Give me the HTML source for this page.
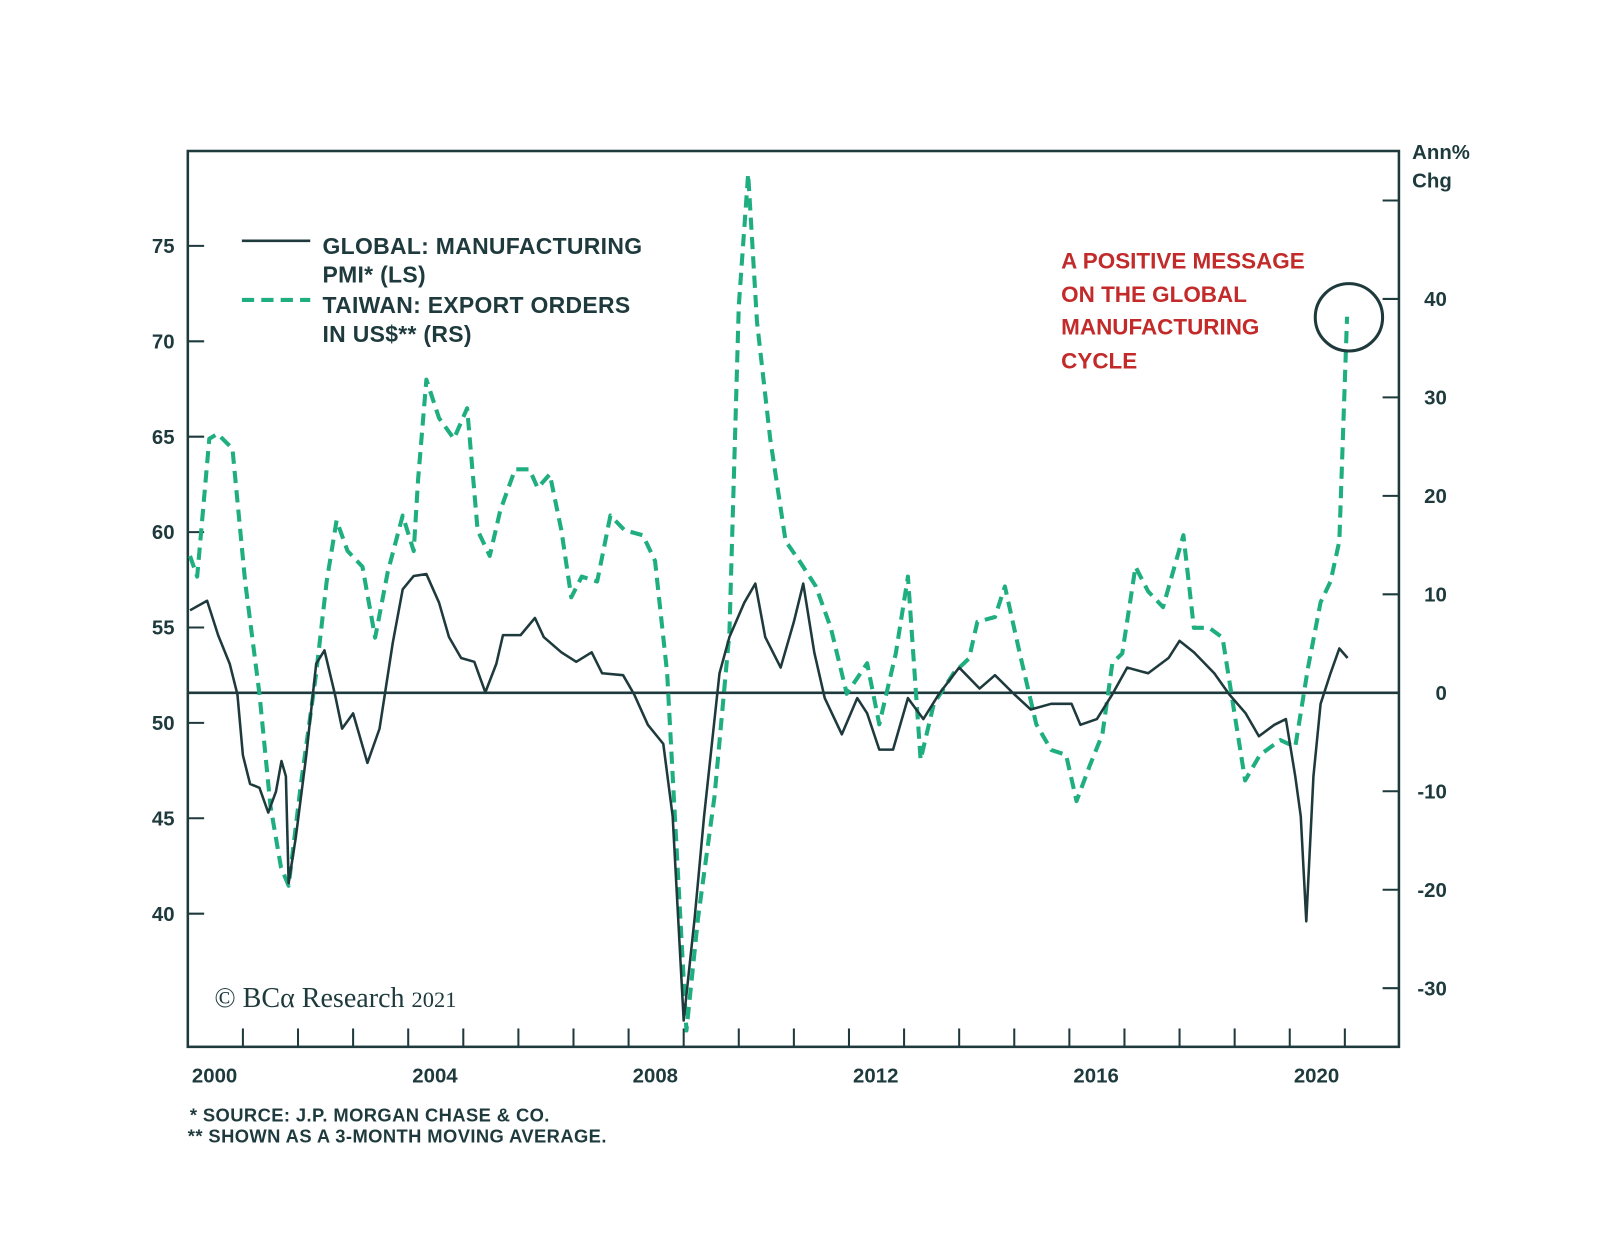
<!DOCTYPE html>
<html><head><meta charset="utf-8"><style>
body{margin:0;background:#fff;}
svg{display:block;font-family:"Liberation Sans",sans-serif;}
</style></head><body>
<svg id="chart" width="1600" height="1256" viewBox="0 0 1568 1231">
<rect x="184" y="148" width="1187" height="878" fill="none" stroke="#1e3a3d" stroke-width="2.5"/>
<g id="axes"></g>
<g id="series"></g>
<g font-size="22.5" font-weight="bold" fill="#1e3a3d" letter-spacing="0.3">
<line x1="237" y1="236" x2="304" y2="236" stroke="#1e3a3d" stroke-width="2.5"/>
<text x="316" y="249">GLOBAL: MANUFACTURING</text>
<text x="316" y="277">PMI* (LS)</text>
<line x1="237" y1="294" x2="304" y2="294" stroke="#1fae80" stroke-width="4" stroke-dasharray="12,7"/>
<text x="316" y="307">TAIWAN: EXPORT ORDERS</text>
<text x="316" y="335">IN US$** (RS)</text>
</g>
<g font-size="22" font-weight="bold" fill="#c32a2a">
<text x="1040" y="263">A POSITIVE MESSAGE</text>
<text x="1040" y="296">ON THE GLOBAL</text>
<text x="1040" y="328">MANUFACTURING</text>
<text x="1040" y="361">CYCLE</text>
</g>
<circle cx="1322" cy="311" r="33" fill="none" stroke="#1e3a3d" stroke-width="3"/>
<text x="1384" y="156" font-size="20" font-weight="bold" fill="#1e3a3d">Ann%</text>
<text x="1384" y="184" font-size="20" font-weight="bold" fill="#1e3a3d">Chg</text>
<text x="210" y="987" font-family="Liberation Serif,serif" font-size="27.5" fill="#1e3a3d">© BCα Research <tspan font-size="22">2021</tspan></text>
<text x="186" y="1099" font-size="18" font-weight="bold" fill="#1e3a3d" letter-spacing="0.4">*   SOURCE: J.P. MORGAN CHASE &amp; CO.</text>
<text x="184" y="1120" font-size="18" font-weight="bold" fill="#1e3a3d" letter-spacing="0.4">** SHOWN AS A 3-MONTH MOVING AVERAGE.</text>
</svg>
<script>
const leftTicks=[40,45,50,55,60,65,70,75];
const rightTicks=[-30,-20,-10,0,10,20,30,40,50];
const rightLabels=["-30","-20","-10","0","10","20","30","40",""];
const yearLabels=[2000,2004,2008,2012,2016,2020];
const pmiT=[2000.04,2000.35,2000.55,2000.76,2000.9,2001.0,2001.13,2001.3,2001.46,2001.6,2001.7,2001.78,2001.83,2001.96,2002.15,2002.33,2002.48,2002.67,2002.8,2003.0,2003.26,2003.48,2003.72,2003.9,2004.1,2004.33,2004.56,2004.74,2004.96,2005.2,2005.4,2005.6,2005.72,2006.04,2006.3,2006.46,2006.78,2007.05,2007.33,2007.52,2007.9,2008.1,2008.35,2008.63,2008.8,2009.0,2009.2,2009.37,2009.65,2009.83,2010.1,2010.3,2010.48,2010.76,2011.0,2011.17,2011.37,2011.56,2011.87,2012.15,2012.33,2012.55,2012.8,2013.07,2013.35,2013.63,2014.0,2014.37,2014.65,2015.0,2015.3,2015.67,2016.04,2016.2,2016.5,2016.78,2017.05,2017.43,2017.8,2018.0,2018.26,2018.63,2018.9,2019.2,2019.44,2019.72,2019.93,2020.1,2020.2,2020.3,2020.43,2020.56,2020.74,2020.9,2021.05];
const pmiV=[55.9,56.4,54.6,53.1,51.5,48.3,46.8,46.6,45.3,46.4,48.0,47.2,41.6,44.0,48.3,53.1,53.8,51.5,49.7,50.5,47.9,49.7,54.2,57.0,57.7,57.8,56.3,54.5,53.4,53.2,51.6,53.1,54.6,54.6,55.5,54.5,53.7,53.2,53.7,52.6,52.5,51.5,49.9,48.9,45.1,34.4,39.8,45.1,52.6,54.5,56.3,57.3,54.5,52.9,55.3,57.3,53.7,51.3,49.4,51.3,50.5,48.6,48.6,51.3,50.2,51.5,52.9,51.8,52.5,51.5,50.7,51.0,51.0,49.9,50.2,51.5,52.9,52.6,53.4,54.3,53.7,52.6,51.5,50.5,49.3,49.9,50.2,47.2,45.1,39.6,47.2,51.0,52.6,53.9,53.4];
const twT=[2000.04,2000.17,2000.39,2000.54,2000.81,2001.04,2001.3,2001.5,2001.69,2001.83,2002.05,2002.33,2002.52,2002.7,2002.9,2003.17,2003.4,2003.63,2003.9,2004.1,2004.18,2004.33,2004.56,2004.83,2005.07,2005.26,2005.48,2005.67,2005.94,2006.2,2006.35,2006.57,2006.78,2006.96,2007.15,2007.43,2007.67,2007.93,2008.26,2008.48,2008.7,2008.9,2009.05,2009.26,2009.56,2009.83,2010.0,2010.17,2010.33,2010.57,2010.85,2011.1,2011.4,2011.67,2011.96,2012.33,2012.55,2012.85,2013.07,2013.3,2013.54,2013.9,2014.18,2014.33,2014.65,2014.83,2015.1,2015.4,2015.67,2015.94,2016.13,2016.37,2016.6,2016.78,2016.96,2017.2,2017.43,2017.7,2018.07,2018.26,2018.54,2018.78,2019.0,2019.19,2019.46,2019.83,2020.1,2020.33,2020.56,2020.74,2020.9,2021.04];
const twV=[13.9,11.8,25.8,26.3,24.8,11.3,-0.1,-11.5,-17.7,-19.6,-9.4,2.0,11.3,17.5,14.4,12.8,5.6,12.3,18.0,14.4,21.7,31.8,27.9,25.8,28.9,16.5,13.9,18.5,22.7,22.7,20.8,22.2,16.5,9.7,11.8,11.3,18.0,16.5,16.0,13.4,2.0,-18.8,-34.3,-22.9,-10.5,6.1,39.3,52.7,37.7,25.8,15.4,13.4,10.8,6.6,-0.1,3.0,-3.2,4.0,11.8,-6.8,-1.1,2.0,3.5,7.2,7.7,10.8,4.0,-3.2,-5.8,-6.3,-11.0,-7.4,-4.2,3.0,4.0,12.8,10.3,8.7,16.0,6.6,6.6,5.6,-2.2,-8.9,-6.3,-4.8,-5.5,2.5,9.2,11.3,15.4,38.2];
const X=t=>184+(t-2000)*54;
const YL=v=>241+(75-v)*18.7;
const YR=v=>679-v*9.65;
const NS="http://www.w3.org/2000/svg";
function mk(tag,attrs,parent,txt){const e=document.createElementNS(NS,tag);for(const k in attrs)e.setAttribute(k,attrs[k]);if(txt!==undefined)e.textContent=txt;parent.appendChild(e);return e;}
const ax=document.getElementById('axes');
const C="#1e3a3d";
leftTicks.forEach(v=>{
 const l=mk('line',{x1:184,x2:200,y1:YL(v),y2:YL(v),stroke:C,'stroke-width':2},ax);
 
 
 const t=mk('text',{x:171,y:YL(v)+7,'text-anchor':'end','font-size':20,'font-weight':'bold',fill:C},ax,String(v));
 
 
});
rightTicks.forEach((v,i)=>{
 const l=mk('line',{x1:1355,x2:1371,y1:YR(v),y2:YR(v),stroke:C,'stroke-width':2},ax);
 
 
 const t=mk('text',{x:1418,y:YR(v)+7,'text-anchor':'end','font-size':20,'font-weight':'bold',fill:C},ax,rightLabels[i]);
 
 
});
for(let y=2001;y<=2021;y++){
 const l=mk('line',{x1:X(y),x2:X(y),y1:1008,y2:1026,stroke:C,'stroke-width':2},ax);
 
 
}
yearLabels.forEach(y=>{
 const t=mk('text',{x:X(y)+4,y:1061,'font-size':20,'font-weight':'bold',fill:C},ax,String(y));
 
 
});
const zl=mk('line',{x1:184,x2:1371,y1:YR(0),y2:YR(0),stroke:C,'stroke-width':2.5},ax);


const sg=document.getElementById('series');
const tw=mk('polyline',{points:twT.map((t,i)=>X(t)+','+YR(twV[i])).join(' '),fill:'none',stroke:'#1fae80','stroke-width':4,'stroke-dasharray':'12,7','stroke-linejoin':'round'},sg);


const pm=mk('polyline',{points:pmiT.map((t,i)=>X(t)+','+YL(pmiV[i])).join(' '),fill:'none',stroke:C,'stroke-width':2.5,'stroke-linejoin':'round'},sg);


</script>
</body></html>
